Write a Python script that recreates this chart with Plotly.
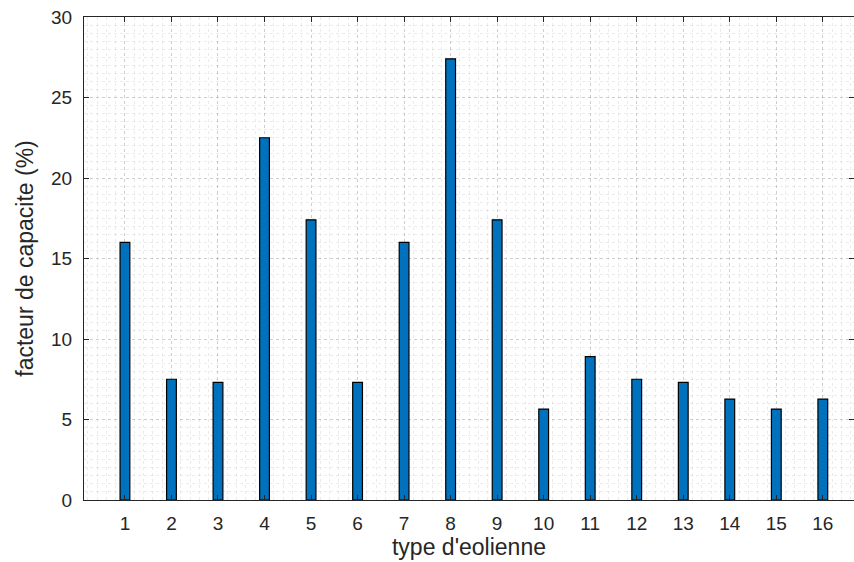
import plotly.graph_objects as go

types = list(range(1, 17))
capacity = [16.0, 7.5, 7.3, 22.5, 17.4, 7.3, 16.0, 27.4, 17.4, 5.65, 8.9, 7.5, 7.3, 6.27, 5.65, 6.27]
x_ticks = list(range(1, 17))
y_ticks = [0, 5, 10, 15, 20, 25, 30]

fig = go.Figure()
fig.add_trace(go.Bar(
    x=types, y=capacity, width=0.21,
    marker=dict(color="#0072BD", line=dict(color="#000000", width=1.2)),
))

tick_font = dict(family="Liberation Sans, Arial, sans-serif", size=19, color="#262626")
title_font = dict(family="Liberation Sans, Arial, sans-serif", size=23, color="#262626")

fig.update_layout(
    width=854, height=562,
    margin=dict(l=84, r=0, t=17, b=62),
    plot_bgcolor="white", paper_bgcolor="white",
    showlegend=False, font=tick_font,
    xaxis=dict(
        range=[0.12, 16.67], tickvals=x_ticks, ticktext=[str(v) for v in x_ticks],
        tickfont=tick_font, ticklabelstandoff=6,
        showgrid=True, gridcolor="rgba(0,0,0,0.12)", griddash="dot", gridwidth=1,
        minor=dict(dtick=0.2, showgrid=True, gridcolor="rgba(0,0,0,0.08)", griddash="dot"),
        showline=True, linecolor="#262626", linewidth=1.3, mirror="ticks",
        ticks="inside", ticklen=5, tickcolor="#262626",
        title=dict(text="type d'eolienne", standoff=2, font=title_font),
        zeroline=False,
    ),
    yaxis=dict(
        range=[0, 30], tickvals=y_ticks,
        tickfont=tick_font, ticklabelstandoff=7,
        showgrid=True, gridcolor="rgba(0,0,0,0.12)", griddash="dot", gridwidth=1,
        minor=dict(dtick=0.5, showgrid=True, gridcolor="rgba(0,0,0,0.08)", griddash="dot"),
        showline=True, linecolor="#262626", linewidth=1.3, mirror="ticks",
        ticks="inside", ticklen=5, tickcolor="#262626",
        title=dict(text="facteur de capacite (%)", standoff=10, font=title_font),
        zeroline=False,
    ),
)

fig.write_html("out.html")
